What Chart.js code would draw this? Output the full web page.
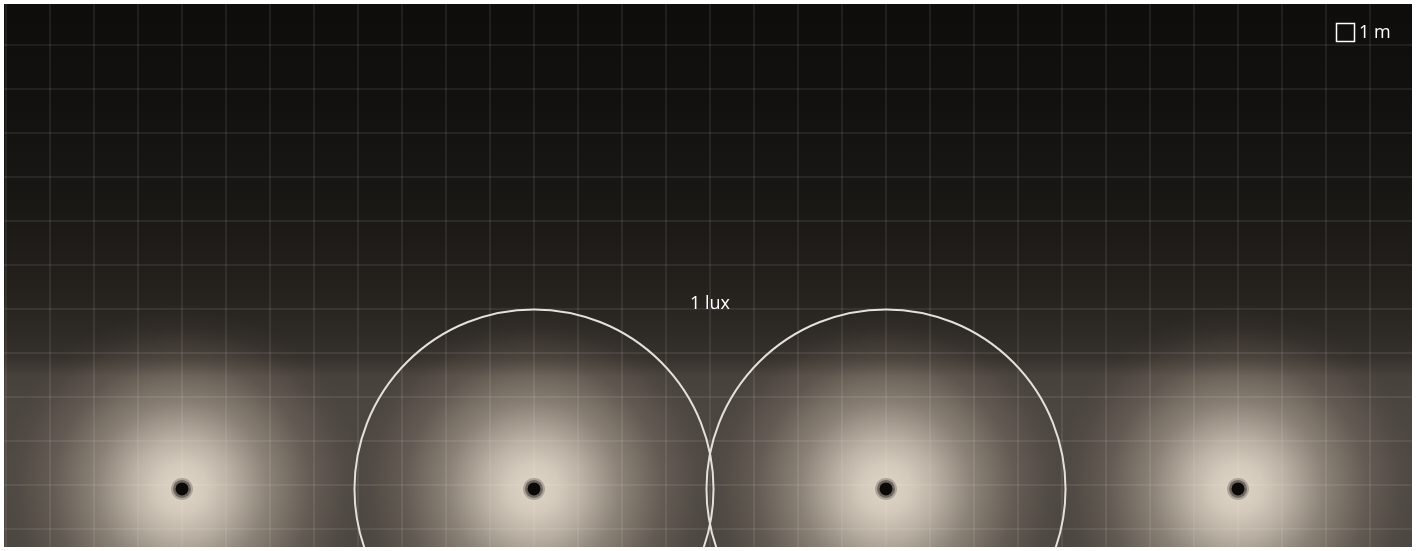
<!DOCTYPE html>
<html>
<head>
<meta charset="utf-8">
<script src="https://cdn.jsdelivr.net/npm/chart.js@4.4.1/dist/chart.umd.min.js"></script>
<style>
  html, body { margin: 0; padding: 0; background: #fff; }
  #wrap { width: 1418px; height: 551px; }
</style>
</head>
<body>
<div id="wrap"><canvas id="lux"></canvas></div>
<script>
// light positions in metres (grid = 1 m)
const lightX = [4, 12, 20, 28];
const lightY = [0.91, 0.91, 0.91, 0.91];
// 1 lux contour: which lights get a ring, and its radius in metres
const ringLights = [1, 2];
const ringRadius = [4.08, 4.08];
const ringLabel = '1 lux';
const legendLabel = '1 m';

const xMin = -2 / 44, xMax = xMin + 32;
const yMin = -18 / 44, yMax = yMin + 543 / 44;

const lights = lightX.map((x, i) => ({ x: x, y: lightY[i] }));

// background + glow, drawn under the grid
const fieldPlugin = {
    id: 'field',
    beforeDraw(chart) {
        const { ctx, chartArea: a, scales } = chart;
        ctx.save();
        const g = ctx.createLinearGradient(0, a.top, 0, a.bottom);
        g.addColorStop(0, '#0e0d0b');
        g.addColorStop(0.18, '#12110f');
        g.addColorStop(0.38, '#1a1815');
        g.addColorStop(0.52, '#24211d');
        g.addColorStop(0.6, '#2d2925');
        g.addColorStop(0.65, '#36312c');
        g.addColorStop(0.67, '#3f3a34');
        g.addColorStop(0.685, '#48423c');
        g.addColorStop(0.75, '#4c4640');
        g.addColorStop(0.85, '#4e4842');
        g.addColorStop(1, '#4b4640');
        ctx.fillStyle = g;
        ctx.fillRect(a.left, a.top, a.width, a.height);

        ctx.beginPath();
        ctx.rect(a.left, a.top, a.width, a.height);
        ctx.clip();
        ctx.globalCompositeOperation = 'lighter';
        lights.forEach(p => {
            const cx = scales.x.getPixelForValue(p.x);
            const cy = scales.y.getPixelForValue(p.y);
            const r = 180;
            const rg = ctx.createRadialGradient(cx, cy, 0, cx, cy, r);
            rg.addColorStop(0, 'rgb(146,142,134)');
            rg.addColorStop(0.14, 'rgb(134,130,122)');
            rg.addColorStop(0.28, 'rgb(108,104,97)');
            rg.addColorStop(0.48, 'rgb(62,58,53)');
            rg.addColorStop(0.72, 'rgb(22,20,18)');
            rg.addColorStop(0.9, 'rgb(5,4,4)');
            rg.addColorStop(1, 'rgb(0,0,0)');
            ctx.fillStyle = rg;
            ctx.fillRect(cx - r, cy - r, 2 * r, 2 * r);
        });
        ctx.restore();
    },
    afterDatasetsDraw(chart) {
        const { ctx, chartArea: a, scales } = chart;
        ctx.save();
        ctx.beginPath();
        ctx.rect(a.left, a.top, a.width, a.height);
        ctx.clip();
        ctx.strokeStyle = '#e4e0da';
        ctx.lineWidth = 2;
        let top = Infinity;
        ringLights.forEach((li, i) => {
            const p = lights[li];
            const cx = scales.x.getPixelForValue(p.x);
            const cy = scales.y.getPixelForValue(p.y);
            const r = scales.x.getPixelForValue(p.x + ringRadius[i]) - cx;
            ctx.beginPath();
            ctx.arc(cx, cy, r, 0, Math.PI * 2);
            ctx.stroke();
            top = Math.min(top, cy - r);
        });
        const midX = (scales.x.getPixelForValue(lights[ringLights[0]].x) +
                      scales.x.getPixelForValue(lights[ringLights[ringLights.length - 1]].x)) / 2;
        ctx.fillStyle = '#ffffff';
        ctx.font = '18px "Open Sans", sans-serif';
        ctx.textAlign = 'center';
        ctx.textBaseline = 'middle';
        ctx.fillText(ringLabel, midX, top - 6);

        // scale legend, top right
        ctx.textAlign = 'left';
        ctx.strokeStyle = '#ffffff';
        ctx.lineWidth = 1.5;
        ctx.strokeRect(1336.5, 23.5, 18, 18);
        ctx.fillText(legendLabel, 1359, 33);
        ctx.restore();
    }
};

const intTicks = s => {
    const t = [];
    for (let v = Math.ceil(s.min); v <= s.max; v++) t.push({ value: v });
    s.ticks = t;
};
const gridColor = 'rgba(255,255,255,0.075)';

new Chart(document.getElementById('lux'), {
    type: 'scatter',
    data: {
        datasets: [
            {
                label: 'halo',
                data: lights,
                pointRadius: 11,
                pointHoverRadius: 11,
                backgroundColor: 'rgba(12,11,10,0.22)',
                borderWidth: 0
            },
            {
                label: 'halo2',
                data: lights,
                pointRadius: 9,
                pointHoverRadius: 9,
                backgroundColor: 'rgba(12,11,10,0.4)',
                borderWidth: 0
            },
            {
                label: 'lights',
                data: lights,
                pointRadius: 6.5,
                pointHoverRadius: 6.5,
                backgroundColor: '#0c0b0a',
                borderWidth: 0
            }
        ]
    },
    options: {
        responsive: true,
        maintainAspectRatio: false,
        animation: false,
        events: [],
        layout: { autoPadding: false, padding: { left: 4, top: 4, right: 6, bottom: 4 } },
        plugins: { legend: { display: false }, tooltip: { enabled: false } },
        scales: {
            x: {
                type: 'linear', min: xMin, max: xMax,
                ticks: { display: false },
                border: { display: false },
                grid: { color: gridColor, lineWidth: 2, drawTicks: false },
                afterBuildTicks: intTicks,
                afterFit: s => { s.height = 0; }
            },
            y: {
                type: 'linear', min: yMin, max: yMax,
                ticks: { display: false },
                border: { display: false },
                grid: { color: gridColor, lineWidth: 2, drawTicks: false },
                afterBuildTicks: intTicks,
                afterFit: s => { s.width = 0; }
            }
        }
    },
    plugins: [fieldPlugin]
});
</script>
</body>
</html>
